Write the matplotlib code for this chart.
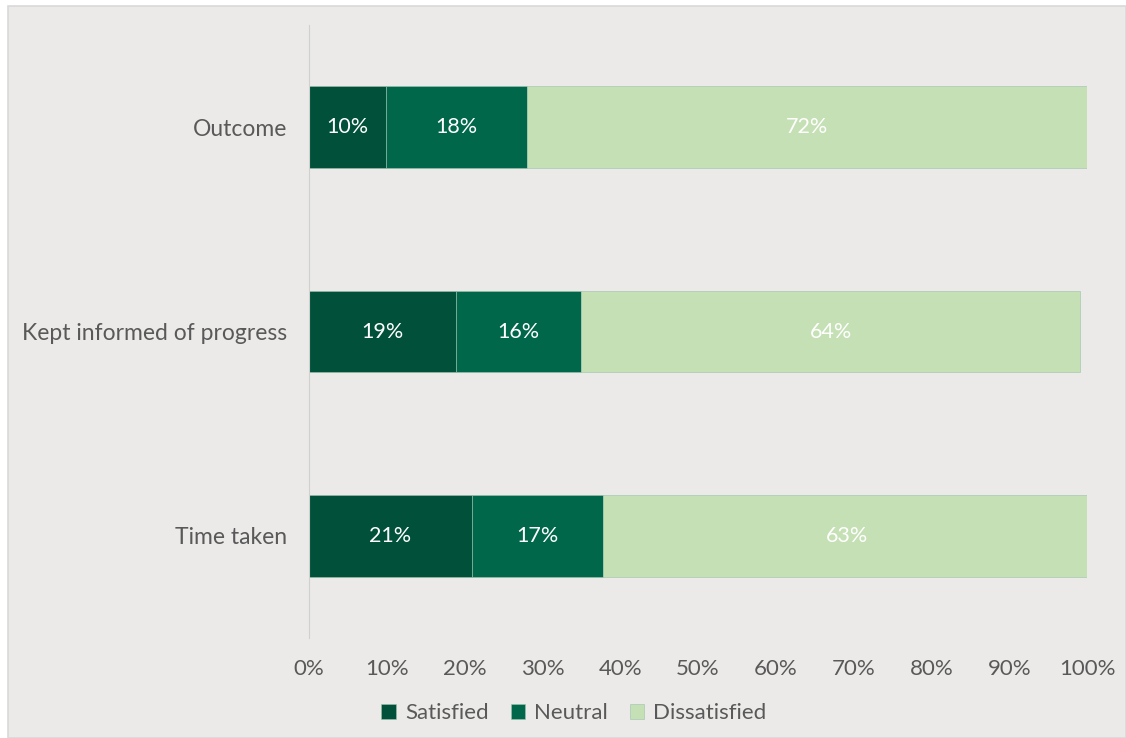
import numpy as np
import matplotlib.pyplot as plt
from matplotlib.patches import Rectangle

plt.rcParams['font.family'] = ['Lato', 'DejaVu Sans']

## ---------------- data (percent) ----------------
categories = ['Outcome', 'Kept informed of progress', 'Time taken']
satisfied = [9.9, 18.9, 20.9]
neutral = [18.1, 16.1, 16.9]
dissatisfied = [72.0, 64.1, 62.6]
series_names = ['Satisfied', 'Neutral', 'Dissatisfied']
colors = ['#00503A', '#00674A', '#C5E0B4']
text_colors = ['white', 'white', 'white']

bg = '#EBEAE8'
grey = '#595959'

fig = plt.figure(figsize=(11.26, 7.38), dpi=100, facecolor='white')
## chart frame (behind the axes)
fig.patches.append(Rectangle((8/1126, 0), 1 - 8/1126, 1 - 6/738, transform=fig.transFigure,
                             facecolor=bg, edgecolor='#D9D9D9', lw=1.2, zorder=-5))

ax = fig.add_axes([309/1126, 1 - 638/738, (1087 - 309)/1126, (638 - 25)/738])
ax.set_facecolor(bg)

y = np.arange(len(categories))
left = np.zeros(len(categories))
for vals, name, col, tc in zip([satisfied, neutral, dissatisfied], series_names, colors, text_colors):
    vals = np.array(vals)
    ax.barh(y, vals, left=left, height=0.4, color=col, label=name,
            edgecolor='#9CC3AE', linewidth=0.4)
    for yi, l, v in zip(y, left, vals):
        ax.text(l + v / 2, yi, f'{v:.0f}%', ha='center', va='center',
                color=tc, fontsize=15.5)
    left += vals

ax.set_xlim(0, 100)
ax.set_ylim(2.5, -0.5)
ax.set_yticks(y)
ax.set_yticklabels(categories, fontsize=16.5, color=grey)
ax.set_xticks(np.arange(0, 101, 10))
ax.set_xticklabels([f'{t}%' for t in range(0, 101, 10)], fontsize=16, color=grey)
ax.tick_params(axis='both', length=0)
ax.tick_params(axis='y', pad=16)
ax.tick_params(axis='x', pad=15)
for s in ['top', 'right', 'bottom']:
    ax.spines[s].set_visible(False)
ax.spines['left'].set_color('#D0D0D0')
ax.spines['left'].set_linewidth(0.8)

fig.legend(loc='center', bbox_to_anchor=(574/1126, 1 - 713/738), ncol=3, frameon=False,
           fontsize=16, handlelength=0.65, handleheight=0.65, handletextpad=0.4,
           columnspacing=1.0, labelcolor=grey)

fig.savefig('out.png', dpi=100, facecolor='white')
